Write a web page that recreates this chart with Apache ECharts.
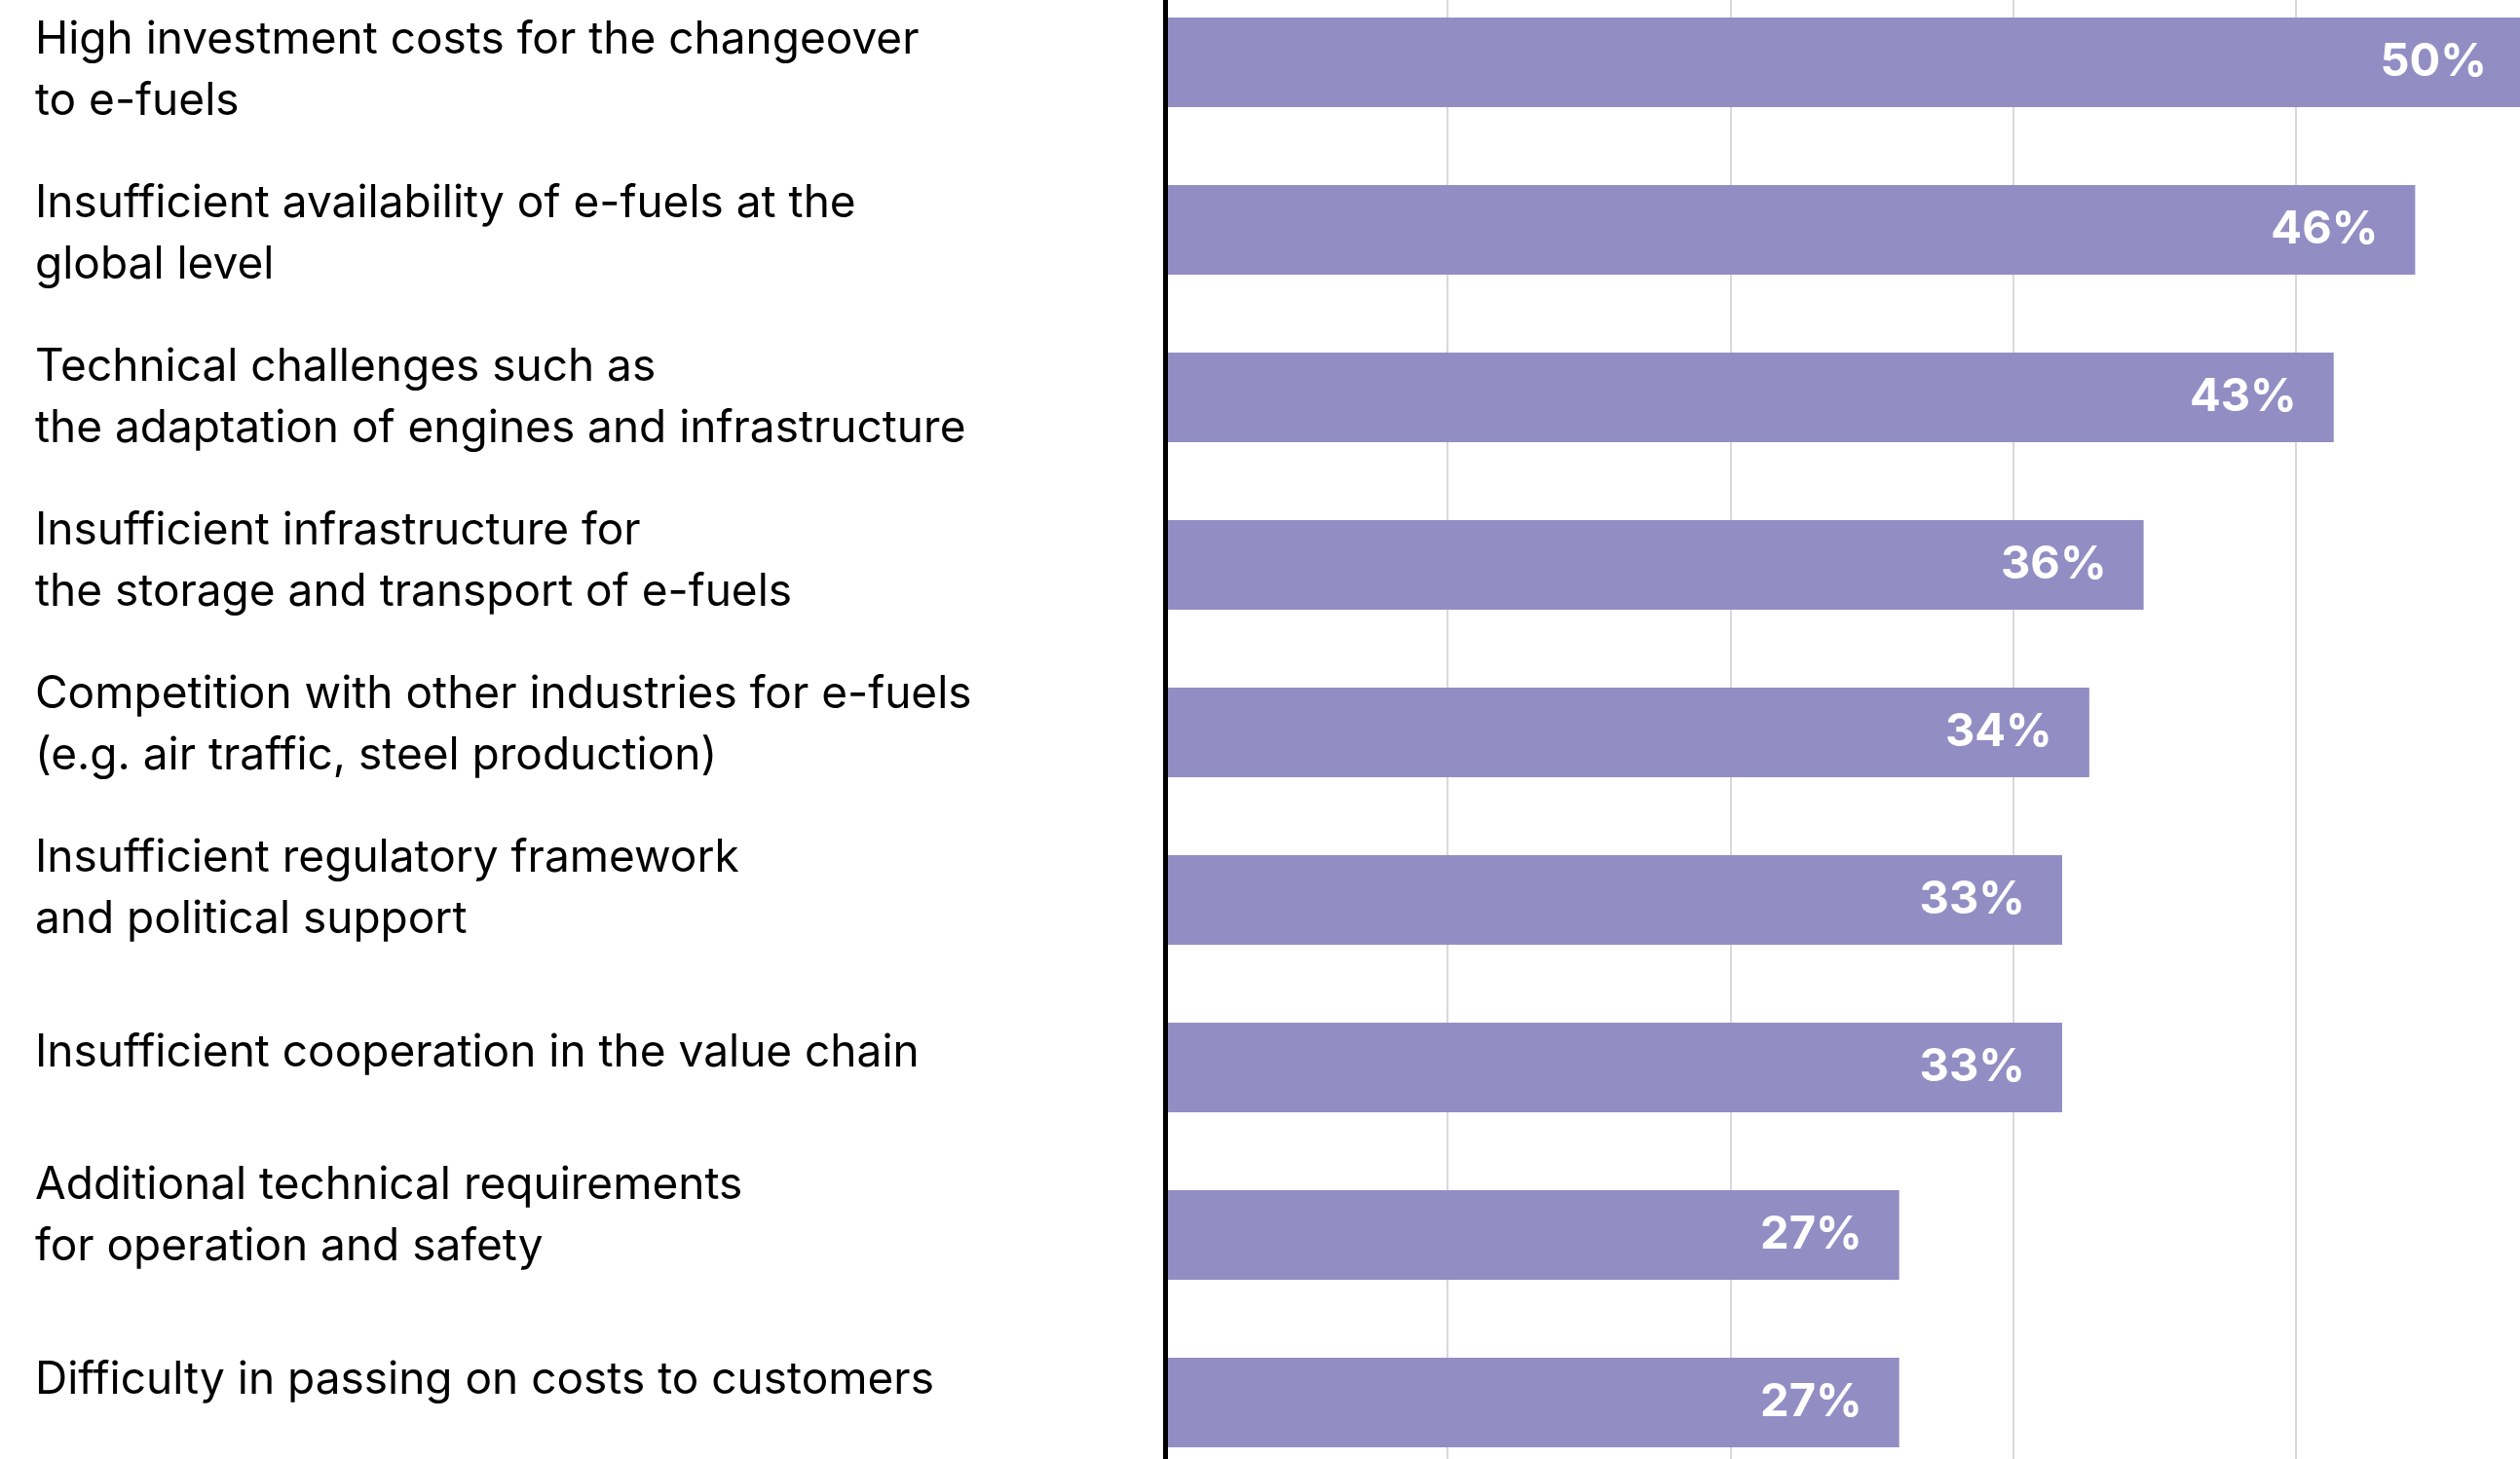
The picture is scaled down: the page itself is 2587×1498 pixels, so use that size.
<!DOCTYPE html>
<html>
<head>
<meta charset="utf-8">
<script src="https://cdn.jsdelivr.net/npm/echarts@6/dist/echarts.min.js"></script>
<style>
  html, body { margin: 0; padding: 0; background: #ffffff; }
  #chart { width: 2587px; height: 1498px; }
</style>
</head>
<body>
<div id="chart"></div>
<script>
// Categories (top to bottom)
const categories = [
    'High investment costs for the changeover\nto e-fuels',
    'Insufficient availability of e-fuels at the\nglobal level',
    'Technical challenges such as\nthe adaptation of engines and infrastructure',
    'Insufficient infrastructure for\nthe storage and transport of e-fuels',
    'Competition with other industries for e-fuels\n(e.g. air traffic, steel production)',
    'Insufficient regulatory framework\nand political support',
    'Insufficient cooperation in the value chain',
    'Additional technical requirements\nfor operation and safety',
    'Difficulty in passing on costs to customers',
]

// Share of respondents, %
const shares = [50, 46, 43, 36, 34, 33, 33, 27, 27]

const barColor = '#928ec4'
const xMax = 49.86
const xStep = 10.4

const chart = echarts.init(document.getElementById('chart'))

const option = {
    backgroundColor: '#ffffff',
    animation: false,
    grid: [
        // bars (category points at the edges, so first/last bar centre on the grid border)
        { left: 1197, right: 0, top: 64, bottom: 58 },
        // text labels on the left
        { left: 1196, right: 0, top: 73, bottom: 81 },
        // full-height frame: gridlines and the black baseline
        { left: 1196, right: 0, top: 0, bottom: 0 },
    ],
    xAxis: [
        {
            type: 'value',
            gridIndex: 0,
            min: 0,
            max: xMax,
            show: false,
        },
        {
            type: 'value',
            gridIndex: 1,
            min: 0,
            max: 1,
            show: false,
        },
        {
            type: 'value',
            gridIndex: 2,
            min: 0,
            max: xMax,
            interval: xStep,
            z: 0,
            axisLabel: { show: false },
            axisLine: { show: false },
            axisTick: { show: false },
            splitLine: {
                show: true,
                showMinLine: false,
                showMaxLine: false,
                lineStyle: { color: '#d9d9d9', width: 2 },
            },
        },
    ],
    yAxis: [
        {
            type: 'category',
            gridIndex: 0,
            inverse: true,
            boundaryGap: false,
            data: categories,
            show: false,
        },
        {
            type: 'category',
            gridIndex: 1,
            inverse: true,
            boundaryGap: false,
            data: categories,
            axisLine: { show: false },
            axisTick: { show: false },
            splitLine: { show: false },
            axisLabel: {
                show: true,
                align: 'left',
                margin: 1160,
                color: '#000000',
                fontFamily: 'Inter',
                fontSize: 46,
                lineHeight: 63,
                interval: 0,
            },
        },
        {
            type: 'value',
            gridIndex: 2,
            min: 0,
            max: 1,
            z: 10,
            axisLine: { show: true, lineStyle: { color: '#000000', width: 5 } },
            axisTick: { show: false },
            axisLabel: { show: false },
            splitLine: { show: false },
        },
    ],
    series: [
        {
            type: 'bar',
            xAxisIndex: 0,
            yAxisIndex: 0,
            data: shares,
            barWidth: 92,
            clip: false,
            z: 2,
            itemStyle: { color: barColor },
            label: {
                show: true,
                position: 'insideRight',
                distance: 38,
                formatter: '{c}%',
                color: '#ffffff',
                fontFamily: 'Inter',
                fontWeight: 'bold',
                fontSize: 47,
            },
        },
    ],
}

chart.setOption(option)
</script>
</body>
</html>
